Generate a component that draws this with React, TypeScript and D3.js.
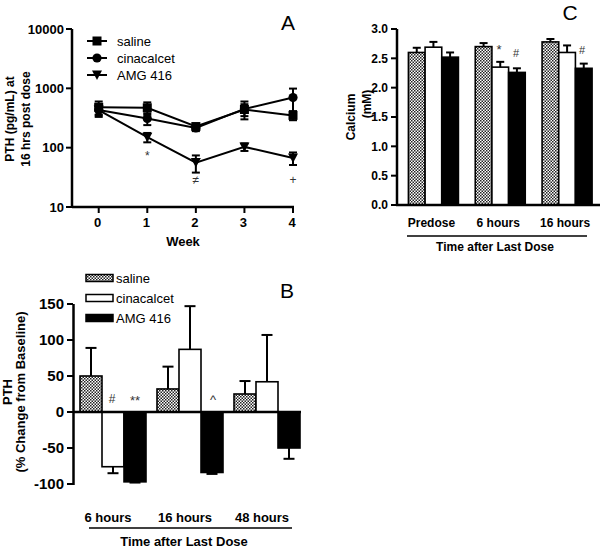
import React from "react";
import * as d3 from "d3";

// ---------- Panel A data ----------
const weeks = [0, 1, 2, 3, 4];
const salineA = [480, 470, 227, 440, 350];
const salineAErr = [120, 110, 25, 100, 60];
const cinaA = [430, 310, 215, 450, 700];
const cinaAErr = [100, 70, 25, 150, 290];
const amgA = [430, 150, 56, 103, 67];
const amgAErr = [80, 27, 18, 15, 16];
const yTicksA = [10, 100, 1000, 10000];
const seriesNames = ["saline", "cinacalcet", "AMG 416"];

// ---------- Panel B data ----------
const groupsB = ["6 hours", "16 hours", "48 hours"];
const salineB = [50, 32, 25];
const salineBErr = [39, 31, 18];
const cinaB = [-76, 87, 42];
const cinaBErr = [9, 60, 65];
const amgB = [-97, -84, -50];
const amgBErr = [1, 2, 15];
const yTicksB = [-100, -50, 0, 50, 100, 150];

// ---------- Panel C data ----------
const groupsC = ["Predose", "6 hours", "16 hours"];
const salineC = [2.6, 2.7, 2.78];
const salineCErr = [0.08, 0.06, 0.05];
const cinaC = [2.69, 2.35, 2.6];
const cinaCErr = [0.09, 0.09, 0.12];
const amgC = [2.52, 2.26, 2.33];
const amgCErr = [0.08, 0.07, 0.08];
const yTicksC = [0, 0.5, 1.0, 1.5, 2.0, 2.5, 3.0];

const FONT = "'Liberation Sans', Arial, Helvetica, sans-serif";

function fillFor(i: number) {
  return i === 0 ? "url(#checker)" : i === 1 ? "#fff" : "#000";
}

function PanelA() {
  const x = d3.scaleLinear().domain([-0.55, 4]).range([72, 293]);
  const y = d3.scaleLog().domain([10, 10000]).range([207, 29]);
  const series = [
    { v: salineA, e: salineAErr, m: "square" },
    { v: cinaA, e: cinaAErr, m: "circle" },
    { v: amgA, e: amgAErr, m: "tri" },
  ];
  const line = d3
    .line<number>()
    .x((_, i) => x(weeks[i]))
    .y((d) => y(d));
  const marker = (m: string, cx: number, cy: number, key: string) => {
    if (m === "square")
      return <rect key={key} x={cx - 4.5} y={cy - 4.5} width={9} height={9} fill="#000" />;
    if (m === "circle") return <circle key={key} cx={cx} cy={cy} r={4.6} fill="#000" />;
    return (
      <path
        key={key}
        d={`M${cx - 5},${cy - 4.5}L${cx + 5},${cy - 4.5}L${cx},${cy + 5}Z`}
        fill="#000"
      />
    );
  };
  return (
    <g>
      {/* axes */}
      <line x1={x(-0.55)} x2={x(4) + 1} y1={207} y2={207} stroke="#000" strokeWidth={2.5} />
      <line x1={72} x2={72} y1={y(10000)} y2={208} stroke="#000" strokeWidth={2.5} />
      {yTicksA.map((t) => (
        <g key={t}>
          <line x1={66} x2={72} y1={y(t)} y2={y(t)} stroke="#000" strokeWidth={2} />
          <text x={64} y={y(t)} dy="0.35em" textAnchor="end" fontWeight="bold" fontSize={13}>
            {t}
          </text>
        </g>
      ))}
      {weeks.map((w) => (
        <g key={w}>
          <line x1={x(w)} x2={x(w)} y1={207} y2={213} stroke="#000" strokeWidth={2} />
          <text x={x(w) - 1} y={227} textAnchor="middle" fontWeight="bold" fontSize={13}>
            {w}
          </text>
        </g>
      ))}
      <text x={183} y={246} textAnchor="middle" fontWeight="bold" fontSize={13}>
        Week
      </text>
      <g transform="translate(10,119) rotate(-90)">
        <text textAnchor="middle" dy="0.35em" fontWeight="bold" fontSize={12}>
          PTH (pg/mL) at
        </text>
      </g>
      <g transform="translate(26,119) rotate(-90)">
        <text textAnchor="middle" dy="0.35em" fontWeight="bold" fontSize={12}>
          16 hrs post dose
        </text>
      </g>
      {/* series */}
      {series.map((s, si) => (
        <g key={si}>
          <path d={line(s.v) || ""} fill="none" stroke="#000" strokeWidth={2} />
          {s.v.map((v, i) => {
            const cx = x(weeks[i]);
            const lo = Math.max(v - s.e[i], 11);
            const hi = v + s.e[i];
            return (
              <g key={i}>
                <line x1={cx} x2={cx} y1={y(hi)} y2={y(lo)} stroke="#000" strokeWidth={2} />
                <line x1={cx - 4} x2={cx + 4} y1={y(hi)} y2={y(hi)} stroke="#000" strokeWidth={2} />
                <line x1={cx - 4} x2={cx + 4} y1={y(lo)} y2={y(lo)} stroke="#000" strokeWidth={2} />
                {marker(s.m, cx, y(v), "m" + i)}
              </g>
            );
          })}
        </g>
      ))}
      {/* annotations */}
      <text x={x(1)} y={160} textAnchor="middle" fontSize={12} fill="#333">*</text>
      <text x={x(2)} y={184} textAnchor="middle" fontSize={12} fill="#333">≠</text>
      <text x={x(4)} y={184} textAnchor="middle" fontSize={12} fill="#333">+</text>
      {/* legend */}
      {seriesNames.map((n, i) => {
        const ly = 41 + i * 17;
        return (
          <g key={n}>
            <line x1={87} x2={107} y1={ly} y2={ly} stroke="#000" strokeWidth={2} />
            {marker(series[i].m, 97, ly, "lg" + i)}
            <text x={117} y={ly} dy="0.35em" fontSize={13}>
              {n}
            </text>
          </g>
        );
      })}
      <text x={288} y={30} textAnchor="middle" fontSize={21}>A</text>
    </g>
  );
}

function BarPanel(props: {
  groups: string[];
  vals: number[][];
  errs: number[][];
  xRange: [number, number];
  half: number;
  y: d3.ScaleLinear<number, number>;
  cap: number;
}) {
  const { groups, vals, errs, xRange, half, y, cap } = props;
  const gx = d3.scalePoint<string>().domain(groups).range(xRange).padding(0.5);
  const sx = d3.scaleBand<string>().domain(seriesNames).range([-half, half]);
  return (
    <g>
      {groups.map((g, gi) =>
        seriesNames.map((s, si) => {
          const v = vals[si][gi];
          const e = errs[si][gi];
          const x0 = (gx(g) as number) + (sx(s) as number);
          const w = sx.bandwidth();
          const y0 = y(0);
          const yv = y(v);
          const ye = y(v >= 0 ? v + e : v - e);
          const cx = x0 + w / 2;
          return (
            <g key={g + s}>
              <line x1={cx} x2={cx} y1={yv} y2={ye} stroke="#000" strokeWidth={2} />
              <line x1={cx - cap / 2} x2={cx + cap / 2} y1={ye} y2={ye} stroke="#000" strokeWidth={2} />
              <rect
                x={x0}
                y={Math.min(yv, y0)}
                width={w}
                height={Math.abs(y0 - yv)}
                fill={fillFor(si)}
                stroke="#000"
                strokeWidth={1.6}
              />
            </g>
          );
        })
      )}
    </g>
  );
}

function PanelB() {
  const y = d3.scaleLinear().domain([-100, 150]).range([484, 304]);
  const gx = d3.scalePoint<string>().domain(groupsB).range([74.5, 305.5]).padding(0.5);
  return (
    <g>
      <BarPanel
        groups={groupsB}
        vals={[salineB, cinaB, amgB]}
        errs={[salineBErr, cinaBErr, amgBErr]}
        xRange={[74.5, 305.5]}
        half={33}
        y={y}
        cap={11}
      />
      <line x1={73} x2={301} y1={y(0)} y2={y(0)} stroke="#000" strokeWidth={2.5} />
      <line x1={73.5} x2={73.5} y1={y(150)} y2={y(-100) + 1} stroke="#000" strokeWidth={2.5} />
      {yTicksB.map((t) => (
        <g key={t}>
          <line x1={67} x2={73} y1={y(t)} y2={y(t)} stroke="#000" strokeWidth={2} />
          <text x={64} y={y(t)} dy="0.35em" textAnchor="end" fontWeight="bold" fontSize={15}>
            {t}
          </text>
        </g>
      ))}
      {groupsB.map((g) => (
        <text key={g} x={(gx(g) as number) - 5} y={522} textAnchor="middle" fontWeight="bold" fontSize={13}>
          {g}
        </text>
      ))}
      <line x1={89} x2={292} y1={528} y2={528} stroke="#000" strokeWidth={1.5} />
      <text x={184} y={546} textAnchor="middle" fontWeight="bold" fontSize={13}>
        Time after Last Dose
      </text>
      <g transform="translate(7,392) rotate(-90)">
        <text textAnchor="middle" dy="0.35em" fontWeight="bold" fontSize={13}>PTH</text>
      </g>
      <g transform="translate(20,392) rotate(-90)">
        <text textAnchor="middle" dy="0.35em" fontWeight="bold" fontSize={13}>
          (% Change from Baseline)
        </text>
      </g>
      {/* annotations */}
      <text x={112} y={403} textAnchor="middle" fontSize={12} fill="#333">#</text>
      <text x={135} y={405} textAnchor="middle" fontSize={13} fill="#333">**</text>
      <text x={213} y={404} textAnchor="middle" fontSize={13} fill="#333">^</text>
      {/* legend */}
      {seriesNames.map((n, i) => {
        const ly = 278 + i * 20;
        return (
          <g key={n}>
            <rect x={86} y={ly - 3.5} width={27} height={7} fill={fillFor(i)} stroke="#000" strokeWidth={1.5} />
            <text x={116} y={ly} dy="0.35em" fontSize={13}>
              {n}
            </text>
          </g>
        );
      })}
      <text x={287} y={298} textAnchor="middle" fontSize={21}>B</text>
    </g>
  );
}

function PanelC() {
  const y = d3.scaleLinear().domain([0, 3]).range([205, 29]);
  const gx = d3.scalePoint<string>().domain(groupsC).range([400, 600.5]).padding(0.5);
  return (
    <g>
      <BarPanel
        groups={groupsC}
        vals={[salineC, cinaC, amgC]}
        errs={[salineCErr, cinaCErr, amgCErr]}
        xRange={[400, 600.5]}
        half={25}
        y={y}
        cap={8}
      />
      <line x1={396} x2={600} y1={y(0)} y2={y(0)} stroke="#000" strokeWidth={2.5} />
      <line x1={397} x2={397} y1={y(3)} y2={y(0)} stroke="#000" strokeWidth={2.5} />
      {yTicksC.map((t) => (
        <g key={t}>
          <line x1={391} x2={397} y1={y(t)} y2={y(t)} stroke="#000" strokeWidth={2} />
          <text x={388} y={y(t)} dy="0.35em" textAnchor="end" fontWeight="bold" fontSize={12}>
            {t.toFixed(1)}
          </text>
        </g>
      ))}
      {groupsC.map((g) => (
        <text key={g} x={(gx(g) as number) - 2} y={227} textAnchor="middle" fontWeight="bold" fontSize={12}>
          {g}
        </text>
      ))}
      <line x1={407} x2={587} y1={236} y2={236} stroke="#000" strokeWidth={1.5} />
      <text x={495} y={251} textAnchor="middle" fontWeight="bold" fontSize={12}>
        Time after Last Dose
      </text>
      <g transform="translate(351,117) rotate(-90)">
        <text textAnchor="middle" dy="0.35em" fontWeight="bold" fontSize={12}>Calcium</text>
      </g>
      <g transform="translate(367,104) rotate(-90)">
        <text textAnchor="middle" dy="0.35em" fontWeight="bold" fontSize={12}>(mM)</text>
      </g>
      <text x={499} y={54} textAnchor="middle" fontSize={13} fill="#333">*</text>
      <text x={516} y={57} textAnchor="middle" fontSize={11} fill="#333">#</text>
      <text x={582} y={54} textAnchor="middle" fontSize={11} fill="#333">#</text>
      <text x={570} y={20} textAnchor="middle" fontSize={21}>C</text>
    </g>
  );
}

export default function App() {
  return (
    <svg
      width={600}
      height={549}
      style={{ position: "absolute", left: 0, top: 0, fontFamily: FONT, background: "#fff" }}
      fontFamily={FONT}
    >
      <defs>
        <pattern id="checker" width={3} height={3} patternUnits="userSpaceOnUse">
          <rect width={3} height={3} fill="#fff" />
          <rect width={1.5} height={1.5} fill="#222" />
          <rect x={1.5} y={1.5} width={1.5} height={1.5} fill="#222" />
        </pattern>
      </defs>
      <rect width={600} height={549} fill="#fff" />
      <PanelA />
      <PanelB />
      <PanelC />
    </svg>
  );
}
